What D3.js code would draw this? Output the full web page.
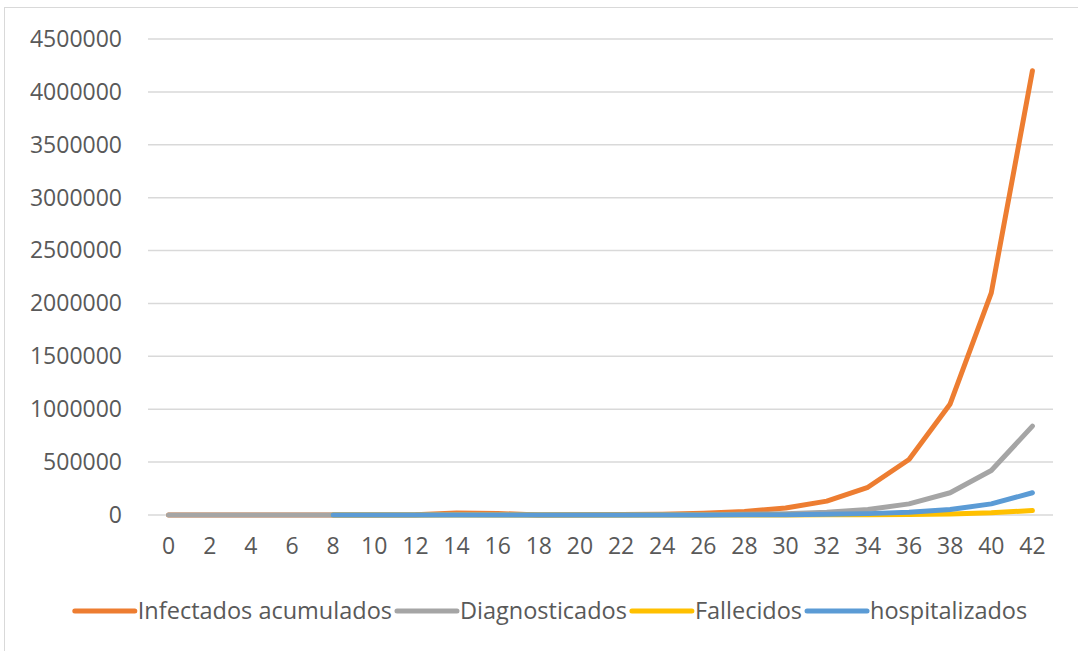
<!DOCTYPE html>
<html>
<head>
<meta charset="utf-8">
<script src="https://cdn.jsdelivr.net/npm/d3@7"></script>
<style>
  html, body { margin: 0; padding: 0; background: #fff; }
  svg { display: block; }
</style>
</head>
<body>
<svg id="chart" width="1078" height="651"></svg>
<script>
// ---- Data ----
const days = [0, 2, 4, 6, 8, 10, 12, 14, 16, 18, 20, 22, 24, 26, 28, 30, 32, 34, 36, 38, 40, 42];
const infectados = [10, 15, 30, 60, 120, 250, 3000, 18000, 14000, 1000, 2050, 4100, 8200, 16400, 32800, 65600, 131000, 262000, 525000, 1050000, 2100000, 4200000];
const diagnosticados = [10, 10, 10, 10, 20, 50, 600, 3600, 2800, 200, 400, 800, 1600, 3300, 6600, 13000, 26000, 52000, 105000, 210000, 420000, 840000];
const fallecidos = [null, null, null, null, 1, 3, 30, 180, 140, 10, 20, 40, 80, 160, 330, 650, 1300, 2600, 5200, 10500, 21000, 42000];
const hospitalizados = [null, null, null, null, 6, 12, 150, 900, 700, 50, 100, 200, 400, 800, 1600, 3300, 6500, 13000, 26000, 52000, 105000, 210000];
const seriesNames = ["Infectados acumulados", "Diagnosticados", "Fallecidos", "hospitalizados"];
const seriesColors = ["#ED7D31", "#A5A5A5", "#FFC000", "#5B9BD5"];
const yTicks = [0, 500000, 1000000, 1500000, 2000000, 2500000, 3000000, 3500000, 4000000, 4500000];

const seriesValues = [infectados, diagnosticados, fallecidos, hospitalizados];

const svg = d3.select("#chart");
const font = "'Open Sans', sans-serif";

// chart border
svg.append("rect")
  .attr("x", 4.5).attr("y", 7.5)
  .attr("width", 1100).attr("height", 700)
  .attr("fill", "#fff").attr("stroke", "#d9d9d9").attr("stroke-width", 1);

const plot = { left: 148, right: 1053, top: 39, bottom: 515 };

const x = d3.scaleBand().domain(days).range([plot.left, plot.right]).paddingInner(0).paddingOuter(0);
const y = d3.scaleLinear().domain([0, 4500000]).range([plot.bottom, plot.top]);

// gridlines
svg.append("g").selectAll("line").data(yTicks).join("line")
  .attr("x1", plot.left).attr("x2", plot.right)
  .attr("y1", d => y(d)).attr("y2", d => y(d))
  .attr("stroke", "#d9d9d9").attr("stroke-width", 1.5);

// y axis labels
const yAxis = d3.axisLeft(y).tickValues(yTicks).tickSize(0).tickPadding(0).tickFormat(d3.format("d"));
const gy = svg.append("g").attr("transform", `translate(122,0)`).call(yAxis);
gy.select(".domain").remove();
gy.selectAll("text").attr("font-family", font).attr("font-size", 23).attr("fill", "#595959");

// x axis labels
const xAxis = d3.axisBottom(x).tickSize(0).tickPadding(0);
const gx = svg.append("g").attr("transform", `translate(0,${plot.bottom + 23})`).call(xAxis);
gx.select(".domain").remove();
gx.selectAll("text").attr("font-family", font).attr("font-size", 23).attr("fill", "#595959");

// lines
const line = d3.line()
  .defined(d => d.v !== null)
  .x(d => x(d.day) + x.bandwidth() / 2)
  .y(d => y(d.v));

seriesValues.forEach((vals, i) => {
  const pts = days.map((day, j) => ({ day, v: vals[j] }));
  svg.append("path")
    .datum(pts)
    .attr("d", line)
    .attr("fill", "none")
    .attr("stroke", seriesColors[i])
    .attr("stroke-width", 5)
    .attr("stroke-linejoin", "round")
    .attr("stroke-linecap", "round");
});

// legend
const legend = svg.append("g");
const legendY = 611;
const swatchW = 60, gapAfterSwatch = 3, gapAfterText = 5;
let cursor = 0;
seriesNames.forEach((name, i) => {
  const g = legend.append("g");
  g.append("line")
    .attr("x1", cursor).attr("x2", cursor + swatchW)
    .attr("y1", legendY).attr("y2", legendY)
    .attr("stroke", seriesColors[i]).attr("stroke-width", 5).attr("stroke-linecap", "round");
  const t = g.append("text")
    .attr("x", cursor + swatchW + gapAfterSwatch)
    .attr("y", legendY)
    .attr("dy", "0.35em")
    .attr("font-family", font).attr("font-size", 23.5).attr("fill", "#595959")
    .text(name);
  cursor += swatchW + gapAfterSwatch + t.node().getComputedTextLength() + gapAfterText;
});
const totalW = cursor - gapAfterText;
legend.attr("transform", `translate(${551 - totalW / 2},0)`);
</script>
</body>
</html>
